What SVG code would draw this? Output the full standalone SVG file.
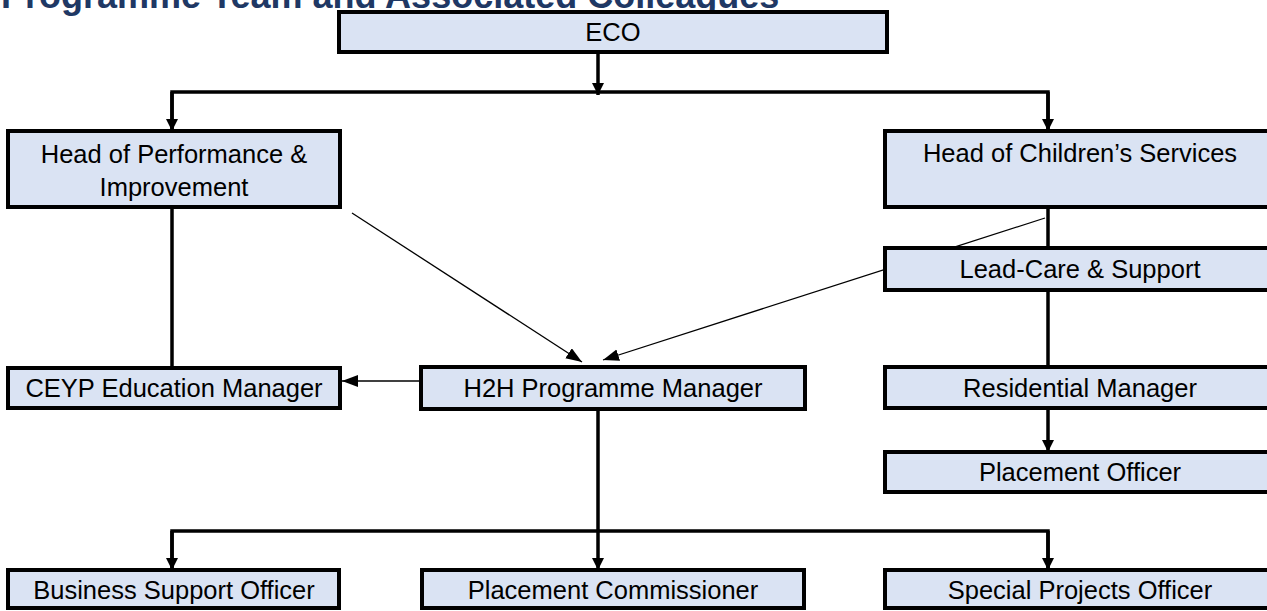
<svg xmlns="http://www.w3.org/2000/svg" width="1267" height="611" viewBox="0 0 1267 611">
<style>
.box{fill:#DAE3F3;stroke:#000;stroke-width:4}
.t{font-family:"Liberation Sans",Arial,sans-serif;font-size:25.5px;fill:#000;text-anchor:middle}
.title{font-family:"Liberation Sans",Arial,sans-serif;font-size:36px;font-weight:bold;fill:#1F3864}
.thick{stroke:#000;stroke-width:3.5;fill:none}
.thin{stroke:#000;stroke-width:1.3;fill:none}
</style>
<defs>
<marker id="ah" markerUnits="userSpaceOnUse" markerWidth="12" markerHeight="16" viewBox="0 0 12 16" refX="12" refY="6" orient="auto">
<path d="M0,0 L12,6 L0,12 Z" fill="#000"/>
</marker>
<marker id="at" markerUnits="userSpaceOnUse" markerWidth="16" markerHeight="14" viewBox="0 0 16 14" refX="16" refY="6" orient="auto">
<path d="M0,0 L16,6 L0,12 Z" fill="#000"/>
</marker>
</defs>
<rect width="1267" height="611" fill="#fff"/>
<text class="title" x="1" y="7.5">Programme Team and Associated Colleagues</text>
<g id="connectors">
<line class="thick" x1="598" y1="52" x2="598" y2="95" marker-end="url(#ah)"/>
<polyline class="thick" points="172,131 172,92 1048,92 1048,131"/>
<line class="thick" x1="172" y1="92" x2="172" y2="131" marker-end="url(#ah)"/>
<line class="thick" x1="1048" y1="92" x2="1048" y2="131" marker-end="url(#ah)"/>
<line class="thick" x1="172" y1="207" x2="172" y2="368"/>
<line class="thin" x1="352" y1="213" x2="582" y2="362" marker-end="url(#at)"/>
<line class="thin" x1="1045" y1="218" x2="603" y2="360" marker-end="url(#at)"/>
<line class="thin" x1="421" y1="381" x2="342" y2="381" marker-end="url(#at)"/>
<line class="thick" x1="1048" y1="207" x2="1048" y2="248"/>
<line class="thick" x1="1048" y1="290" x2="1048" y2="367"/>
<line class="thick" x1="1048" y1="408" x2="1048" y2="452" marker-end="url(#ah)"/>
<line class="thick" x1="598" y1="409" x2="598" y2="570" marker-end="url(#ah)"/>
<polyline class="thick" points="172,570 172,531 1048,531 1048,570"/>
<line class="thick" x1="172" y1="531" x2="172" y2="570" marker-end="url(#ah)"/>
<line class="thick" x1="1048" y1="531" x2="1048" y2="570" marker-end="url(#ah)"/>
</g>
<g id="eco"><rect class="box" x="339" y="12" width="548" height="40"/><text class="t" x="613" y="41">ECO</text></g>
<g id="head-performance"><rect class="box" x="8" y="131" width="332" height="76"/><text class="t" x="174" y="163">Head of Performance &amp;</text><text class="t" x="174" y="196">Improvement</text></g>
<g id="head-childrens"><rect class="box" x="885" y="131" width="390" height="76"/><text class="t" x="1080" y="162">Head of Children’s Services</text></g>
<g id="lead-care"><rect class="box" x="885" y="248" width="390" height="42"/><text class="t" x="1080" y="278">Lead-Care &amp; Support</text></g>
<g id="ceyp"><rect class="box" x="8" y="368" width="332" height="40"/><text class="t" x="174" y="397">CEYP Education Manager</text></g>
<g id="h2h"><rect class="box" x="421" y="367" width="384" height="42"/><text class="t" x="613" y="397">H2H Programme Manager</text></g>
<g id="residential"><rect class="box" x="885" y="367" width="390" height="41"/><text class="t" x="1080" y="397">Residential Manager</text></g>
<g id="placement-officer"><rect class="box" x="885" y="452" width="390" height="40"/><text class="t" x="1080" y="481">Placement Officer</text></g>
<g id="business-support"><rect class="box" x="8" y="570" width="331" height="38"/><text class="t" x="174" y="599">Business Support Officer</text></g>
<g id="placement-commissioner"><rect class="box" x="422" y="570" width="382" height="38"/><text class="t" x="613" y="599">Placement Commissioner</text></g>
<g id="special-projects"><rect class="box" x="885" y="570" width="390" height="38"/><text class="t" x="1080" y="599">Special Projects Officer</text></g>
</svg>
